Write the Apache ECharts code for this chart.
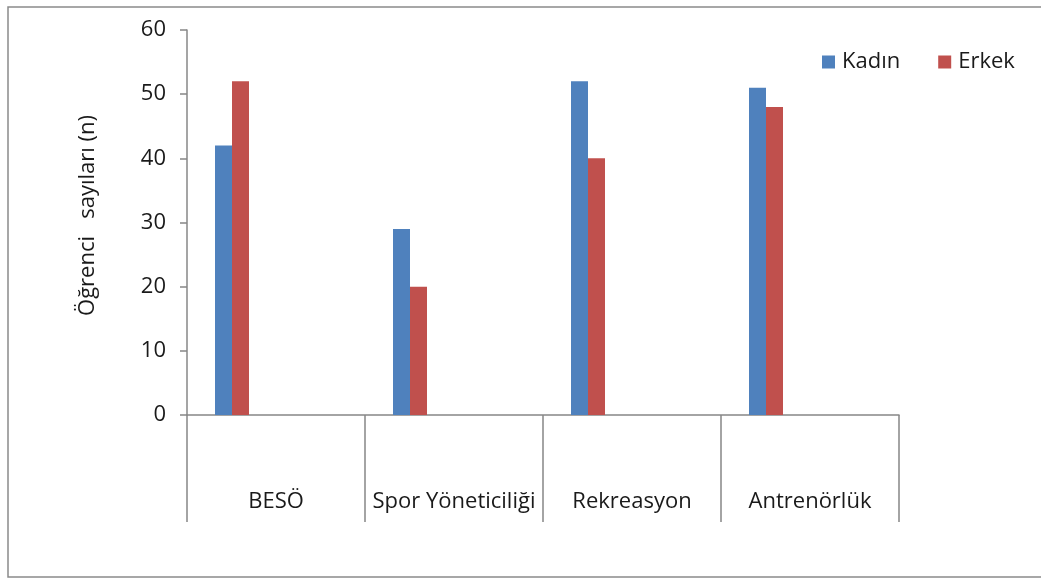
<!DOCTYPE html>
<html>
<head>
<meta charset="utf-8">
<script src="https://cdn.jsdelivr.net/npm/echarts@6/dist/echarts.min.js"></script>
<style>
  html, body { margin: 0; padding: 0; background: #fff; }
  #chart { width: 1041px; height: 579px; }
</style>
</head>
<body>
<div id="chart"></div>
<script>
// Departments and student counts by gender
const categories = ['BESÖ', 'Spor Yöneticiliği', 'Rekreasyon', 'Antrenörlük'];
const kadin = [42, 29, 52, 51];
const erkek = [52, 20, 40, 48];
const yTicks = { min: 0, max: 60, interval: 10 };

const FONT = '"Open Sans", "Noto Sans", sans-serif';
const FS = 22;
const AXIS_GREY = '#878787';
const TEXT = '#1a1a1a';

const chart = echarts.init(document.getElementById('chart'));

chart.setOption({
  backgroundColor: '#fff',
  animation: false,
  graphic: [{
    type: 'rect',
    shape: { x: 8, y: 7, width: 1100, height: 570 },
    style: { fill: 'none', stroke: '#8a8a8a', lineWidth: 1.5 },
    silent: true
  }],
  legend: {
    data: ['Kadın', 'Erkek'],
    left: 817,
    top: 46,
    itemWidth: 13,
    itemHeight: 13,
    itemGap: 38,
    icon: 'rect',
    textStyle: { fontFamily: FONT, fontSize: FS, color: TEXT, padding: [0, 0, 0, 2] }
  },
  grid: { left: 187, right: 142, top: 30, bottom: 164, containLabel: false },
  xAxis: {
    type: 'category',
    data: categories,
    boundaryGap: true,
    axisLine: { lineStyle: { color: AXIS_GREY, width: 1.5 } },
    axisTick: { show: true, length: 107, lineStyle: { color: AXIS_GREY, width: 1.5 } },
    axisLabel: { margin: 76, fontFamily: FONT, fontSize: FS, color: TEXT, interval: 0 }
  },
  yAxis: {
    type: 'value',
    min: yTicks.min,
    max: yTicks.max,
    interval: yTicks.interval,
    name: 'Öğrenci   sayıları (n)',
    nameLocation: 'middle',
    nameGap: 88,
    nameRotate: 90,
    nameTextStyle: { fontFamily: FONT, fontSize: FS, color: TEXT, padding: [0, 0, 0, 14] },
    axisLine: { show: true, lineStyle: { color: AXIS_GREY, width: 1.5 } },
    axisTick: { show: true, length: 7, lineStyle: { color: AXIS_GREY, width: 1.5 } },
    axisLabel: { margin: 21, fontFamily: FONT, fontSize: FS, color: TEXT },
    splitLine: { show: false }
  },
  series: [
    {
      name: 'Kadın', type: 'bar', data: kadin, barWidth: 17, barGap: '0%',
      itemStyle: { color: '#4F81BD' }
    },
    {
      name: 'Erkek', type: 'bar', data: erkek, barWidth: 17, barGap: '0%',
      itemStyle: { color: '#C0504D' }
    },
    {
      // empty slot that keeps the pair to the left side of each category
      name: 'spacer', type: 'bar', data: categories.map(() => null), barWidth: 88, barGap: '0%',
      silent: true, itemStyle: { color: 'transparent' }
    }
  ]
});
</script>
</body>
</html>
